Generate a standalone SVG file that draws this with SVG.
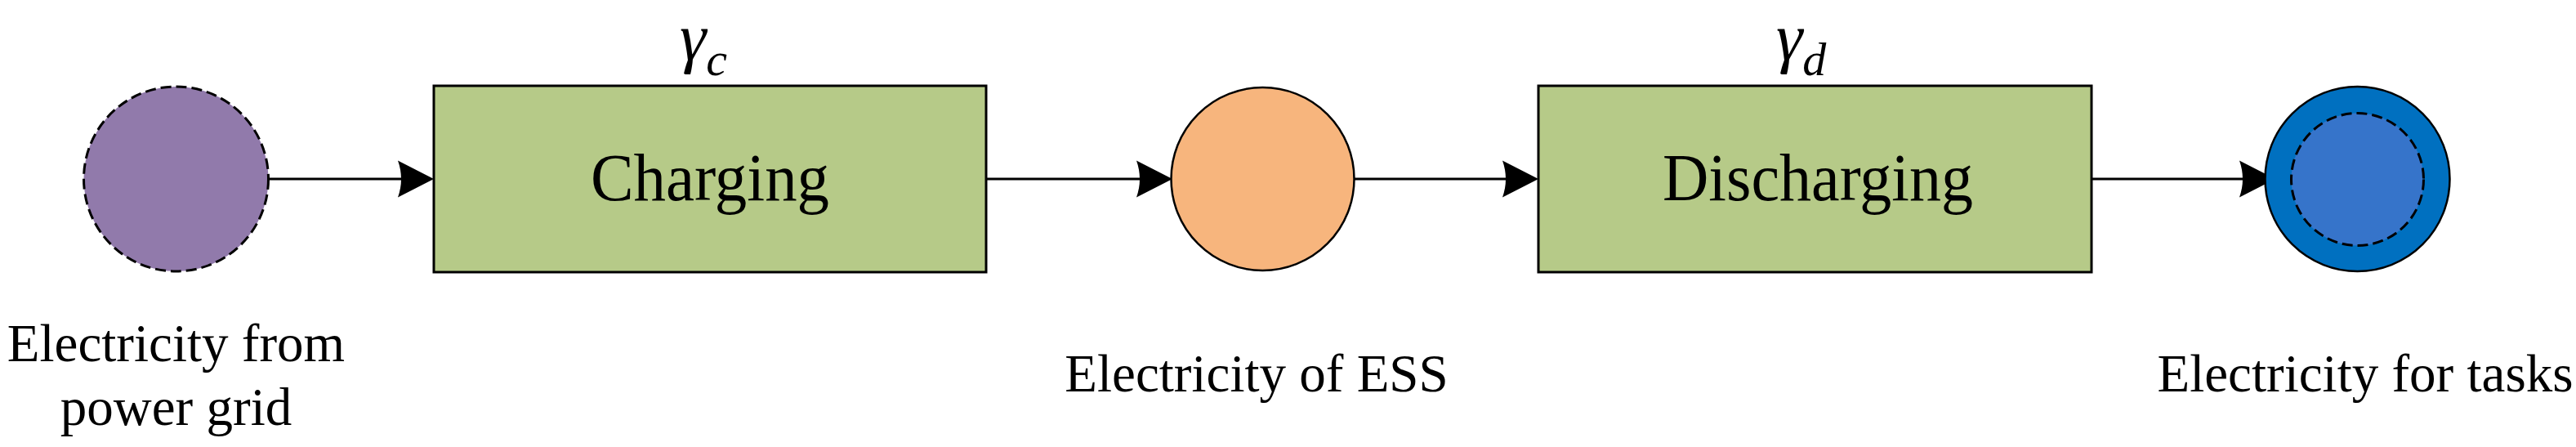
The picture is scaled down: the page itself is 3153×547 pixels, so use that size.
<svg xmlns="http://www.w3.org/2000/svg" width="3153" height="547" viewBox="0 0 3153 547">
<style>
  .lbl { font-family: "Liberation Serif", "Times New Roman", serif; fill: #000; }
  .sym { font-family: "Liberation Serif", "Times New Roman", serif; font-style: italic; fill: #000; }
  .box { fill: #B6CA88; stroke: #000; stroke-width: 3; }
  .conn { fill: none; stroke: #000; stroke-width: 3; }
  .dash { stroke: #000; stroke-width: 3; stroke-dasharray: 13 6; }
</style>
<defs>
  <marker id="arr" markerUnits="userSpaceOnUse" markerWidth="60" markerHeight="60" viewBox="-50 -30 60 60" refX="-10" refY="0" orient="auto" overflow="visible">
    <path d="M0,0 L-44,-22.5 Q-36,0 -44,22.5 Z" fill="#000"/>
  </marker>
</defs>
<rect width="3153" height="547" fill="#fff"/>
<g id="connectors">
  <path class="conn" d="M329,219 L521,219" marker-end="url(#arr)"/>
  <path class="conn" d="M1207,219 L1425,219" marker-end="url(#arr)"/>
  <path class="conn" d="M1657,219 L1873,219" marker-end="url(#arr)"/>
  <path class="conn" d="M2560,219 L2775,219" marker-end="url(#arr)"/>
</g>
<g id="grid">
  <circle cx="215.5" cy="219" r="113" fill="#917AAB" class="dash"/>
  <text class="lbl" x="215.5" y="442" font-size="65" text-anchor="middle">Electricity from</text>
  <text class="lbl" x="215.5" y="520" font-size="65" text-anchor="middle">power grid</text>
</g>
<g id="charging">
  <rect class="box" x="531" y="105" width="676" height="228"/>
  <text class="lbl" x="869" y="245" font-size="82" text-anchor="middle" textLength="292" lengthAdjust="spacingAndGlyphs">Charging</text>
  <text class="sym" x="832" y="73"><tspan font-size="82">γ</tspan><tspan font-size="58" dy="19">c</tspan></text>
</g>
<g id="ess">
  <circle cx="1545.5" cy="219" r="112" fill="#F7B57D" stroke="#000" stroke-width="2.5"/>
  <text class="lbl" x="1538" y="479" font-size="65" text-anchor="middle">Electricity of ESS</text>
</g>
<g id="discharging">
  <rect class="box" x="1883" y="105" width="677" height="228"/>
  <text class="lbl" x="2225" y="245" font-size="82" text-anchor="middle" textLength="380" lengthAdjust="spacingAndGlyphs">Discharging</text>
  <text class="sym" x="2174" y="73"><tspan font-size="82">γ</tspan><tspan font-size="58" dy="19">d</tspan></text>
</g>
<g id="tasks">
  <circle cx="2885.5" cy="219" r="113" fill="#0070C0" stroke="#000" stroke-width="2.5"/>
  <circle cx="2885.5" cy="219.5" r="81" fill="#3674CA" class="dash"/>
  <text class="lbl" x="2895" y="479" font-size="65" text-anchor="middle">Electricity for tasks</text>
</g>
</svg>
